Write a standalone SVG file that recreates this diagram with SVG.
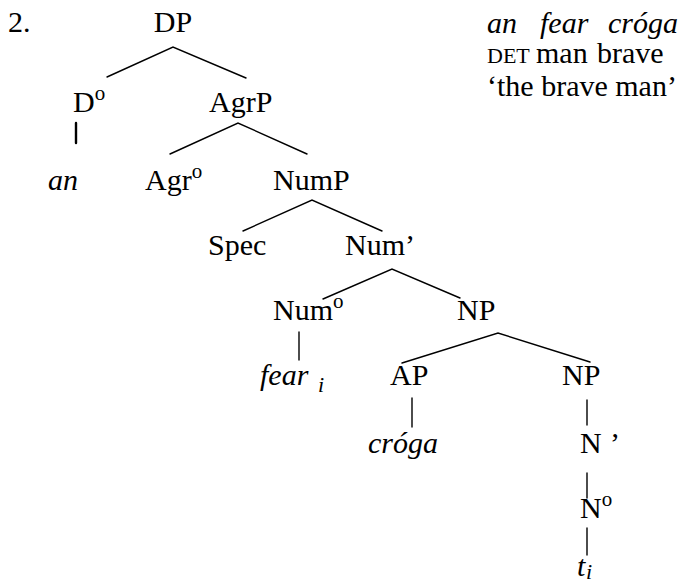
<svg xmlns="http://www.w3.org/2000/svg" width="688" height="583" viewBox="0 0 688 583">
  <style>
    text { font-family: "Liberation Serif", "Noto Serif", "DejaVu Serif", "Times New Roman", serif; font-size: 30px; fill: #000; }
    .it { font-style: italic; }
    .sup { font-size: 21px; }
    .sub { font-size: 22px; font-style: italic; }
    .sc { font-size: 22px; }
    .edge { stroke: #000; stroke-width: 1.4; fill: none; stroke-linecap: round; }
    .bar { stroke: #000; stroke-width: 2.4; }
  </style>
  <rect width="688" height="583" fill="#fff"/>

  <!-- example number -->
  <text x="8" y="32">2.</text>

  <!-- gloss -->
  <g id="gloss">
    <text class="it" x="487" y="33">an</text>
    <text class="it" x="540" y="33">fear</text>
    <text class="it" x="608" y="33">cróga</text>
    <text class="sc" x="487" y="63">DET</text>
    <text x="536" y="63">man</text>
    <text x="597" y="63">brave</text>
    <text x="487" y="96">‘the brave man’</text>
  </g>

  <!-- tree edges -->
  <g id="connectors">
    <path class="edge" d="M107 77 L173 47 L246 78"/>
    <line class="edge bar" x1="76" y1="123" x2="76" y2="143"/>
    <path class="edge" d="M170 154 L238 123 L307 154"/>
    <path class="edge" d="M243 231 L312 200 L382 231"/>
    <path class="edge" d="M323 299 L392 269 L460 298"/>
    <line class="edge" x1="299" y1="332" x2="299" y2="360"/>
    <path class="edge" d="M402 363 L498 333 L590 362"/>
    <line class="edge" x1="412" y1="398" x2="412" y2="427"/>
    <line class="edge" x1="587" y1="400" x2="587" y2="425"/>
    <line class="edge" x1="587" y1="473" x2="587" y2="498"/>
    <line class="edge" x1="587" y1="528" x2="587" y2="555"/>
  </g>

  <!-- tree nodes -->
  <g id="DP"><text x="173" y="32" text-anchor="middle">DP</text></g>
  <g id="D0"><text x="73" y="112">D<tspan class="sup" dy="-12">o</tspan></text></g>
  <g id="AgrP"><text x="209" y="112">AgrP</text></g>
  <g id="an"><text class="it" x="48" y="190">an</text></g>
  <g id="Agr0"><text x="145" y="190">Agr<tspan class="sup" dy="-12">o</tspan></text></g>
  <g id="NumP"><text x="273" y="190">NumP</text></g>
  <g id="Spec"><text x="208" y="255">Spec</text></g>
  <g id="NumBar"><text x="345" y="255">Num’</text></g>
  <g id="Num0"><text x="273" y="320">Num<tspan class="sup" dy="-12">o</tspan></text></g>
  <g id="NP"><text x="457" y="320">NP</text></g>
  <g id="fear"><text class="it" x="260" y="385">fear</text><text class="sub" x="318" y="392">i</text></g>
  <g id="AP"><text x="390" y="385">AP</text></g>
  <g id="NP2"><text x="562" y="385">NP</text></g>
  <g id="croga"><text class="it" x="368" y="453">cróga</text></g>
  <g id="NBar"><text x="580" y="453">N</text><text x="610" y="453">’</text></g>
  <g id="N0"><text x="580" y="518">N<tspan class="sup" dy="-12">o</tspan></text></g>
  <g id="trace"><text class="it" x="577" y="576">t</text><text class="sub" x="586" y="579">i</text></g>
</svg>
